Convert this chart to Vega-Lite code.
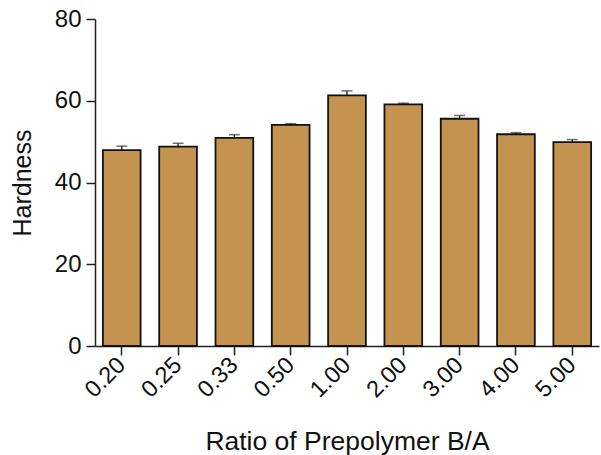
{
  "$schema": "https://vega.github.io/schema/vega-lite/v6.json",
  "autosize": "none",
  "width": 504,
  "height": 327,
  "padding": {"left": 95, "top": 19, "right": 2, "bottom": 109},
  "background": "white",
  "config": {
    "view": {"stroke": null},
    "font": "Liberation Sans",
    "axis": {
      "domainColor": "#222",
      "tickColor": "#222",
      "labelColor": "#111",
      "titleColor": "#111",
      "domainWidth": 1.5,
      "tickWidth": 1.5,
      "grid": false,
      "labelFont": "Liberation Sans",
      "titleFont": "Liberation Sans",
      "titleFontWeight": "normal"
    }
  },
  "data": {
    "values": [
      {"ratio": "0.20", "hardness": 47.9, "err": 1.0},
      {"ratio": "0.25", "hardness": 48.8, "err": 0.8},
      {"ratio": "0.33", "hardness": 50.9, "err": 0.8},
      {"ratio": "0.50", "hardness": 54.1, "err": 0.3},
      {"ratio": "1.00", "hardness": 61.3, "err": 1.1},
      {"ratio": "2.00", "hardness": 59.1, "err": 0.3},
      {"ratio": "3.00", "hardness": 55.6, "err": 0.8},
      {"ratio": "4.00", "hardness": 51.8, "err": 0.4},
      {"ratio": "5.00", "hardness": 49.9, "err": 0.6}
    ]
  },
  "transform": [{"calculate": "datum.hardness + datum.err", "as": "upper"}],
  "encoding": {
    "x": {
      "field": "ratio",
      "type": "ordinal",
      "sort": null,
      "scale": {"paddingInner": 0.33, "paddingOuter": 0.14},
      "axis": {
        "title": "Ratio of Prepolymer B/A",
        "titleFontSize": 26.5,
        "titlePadding": 27,
        "labelFontSize": 23.5,
        "labelAngle": -45,
        "labelAlign": "right",
        "labelBaseline": "middle",
        "labelPadding": 6,
        "tickSize": 9
      }
    }
  },
  "layer": [
    {
      "mark": {"type": "rule", "color": "#333", "strokeWidth": 1.5},
      "encoding": {
        "y": {"field": "hardness", "type": "quantitative"},
        "y2": {"field": "upper"}
      }
    },
    {
      "mark": {"type": "tick", "color": "#333", "thickness": 1.5, "size": 11},
      "encoding": {
        "y": {"field": "upper", "type": "quantitative"}
      }
    },
    {
      "mark": {"type": "bar", "fill": "#C4934F", "stroke": "#111", "strokeWidth": 1.8},
      "encoding": {
        "y": {
          "field": "hardness",
          "type": "quantitative",
          "scale": {"domain": [0, 80]},
          "axis": {
            "title": "Hardness",
            "titleFontSize": 25,
            "titlePadding": 19,
            "labelFontSize": 24,
            "labelPadding": 5,
            "values": [0, 20, 40, 60, 80],
            "tickSize": 9
          }
        }
      }
    }
  ]
}
